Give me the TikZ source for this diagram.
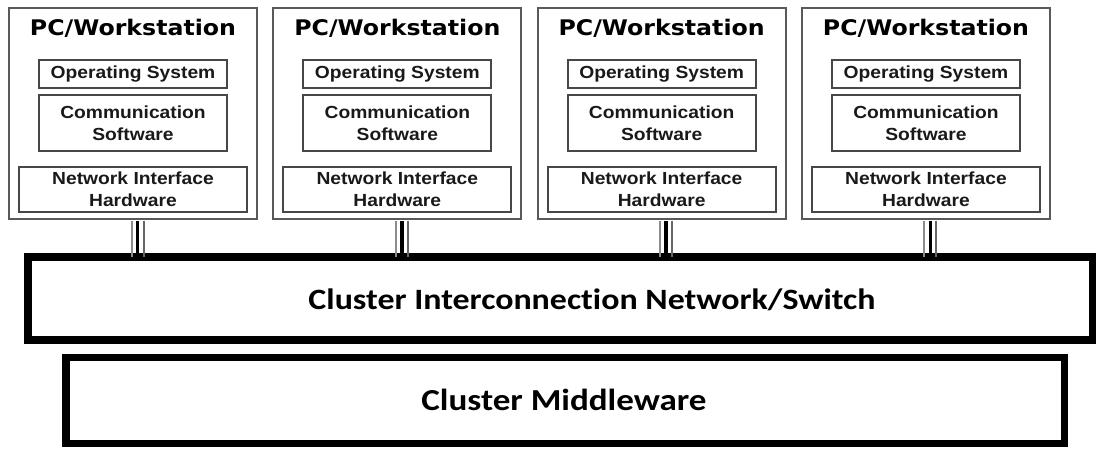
\documentclass[tikz,border=0pt]{standalone}
\usepackage{fontspec}
\newfontfamily\titlefont[FakeStretch=1.1]{DejaVu Sans}
\newfontfamily\labelfont[FakeStretch=1.1]{Liberation Sans}
\newfontfamily\busfont[FakeStretch=1.15,Ligatures=NoCommon]{Carlito}

\tikzset{
  pcbox/.style={draw=black!65, line width=2pt, inner sep=0pt},
  layerbox/.style={draw=black!72, line width=2pt, inner sep=0pt, align=center,
    text=black!90, font=\labelfont\bfseries\fontsize{17.5}{22}\selectfont},
  pctitle/.style={inner sep=0pt, font=\titlefont\bfseries\fontsize{21.5}{24}\selectfont},
  busbox/.style={draw=black, line width=7.5pt},
  buslabel/.style={inner sep=0pt, font=\busfont\bfseries\fontsize{29.5}{34}\selectfont},
  wireA/.style={draw=black!45, line width=2pt},
  wireB/.style={draw=black, line width=3.5pt},
  wireC/.style={draw=black!60, line width=2pt}
}

\begin{document}
\begin{tikzpicture}[x=1pt,y=-1pt]
\useasboundingbox (0,0) rectangle (1096,448);

% interconnection network and middleware layers
\draw[busbox] (28,257) rectangle (1092.5,340);
\coordinate (net) at (560,257);
\node[buslabel] (netlabel) at (592,300) {Cluster Interconnection Network/Switch};
\draw[busbox] (66,357.5) rectangle (1064.5,443.5);
\node[buslabel, font=\busfont\bfseries\fontsize{30.5}{34}\selectfont] (mwlabel) at (564,400) {Cluster Middleware};

% the four workstations
\foreach \k in {1,...,4}{
  \pgfmathsetmacro\L{8+264.33*(\k-1)}
  \node[pcbox, minimum width=248pt, minimum height=211pt] (pc\k) at (\L+125,113.5) {};
  \node[pctitle] (title\k) at (\L+125,28.5) {PC/Workstation};
  \node[layerbox, minimum width=188pt, minimum height=28pt] (os\k) at (\L+125,74) {Operating System};
  \node[layerbox, minimum width=188pt, minimum height=56pt] (com\k) at (\L+125,123) {Communication\\Software};
  \node[layerbox, minimum width=228pt, minimum height=45pt] (nic\k) at (\L+125,189.5) {Network Interface\\Hardware};
  % triple-line link down to the switch
  \draw[wireA] ([xshift=-1.5pt,yshift=-1pt]pc\k.south) -- ([xshift=-1.5pt]pc\k.south |- net);
  \draw[wireB] ([xshift=4.5pt,yshift=-1pt]pc\k.south) -- ([xshift=4.5pt]pc\k.south |- net);
  \draw[wireC] ([xshift=10.5pt,yshift=-1pt]pc\k.south) -- ([xshift=10.5pt]pc\k.south |- net);
}
\end{tikzpicture}
\end{document}
